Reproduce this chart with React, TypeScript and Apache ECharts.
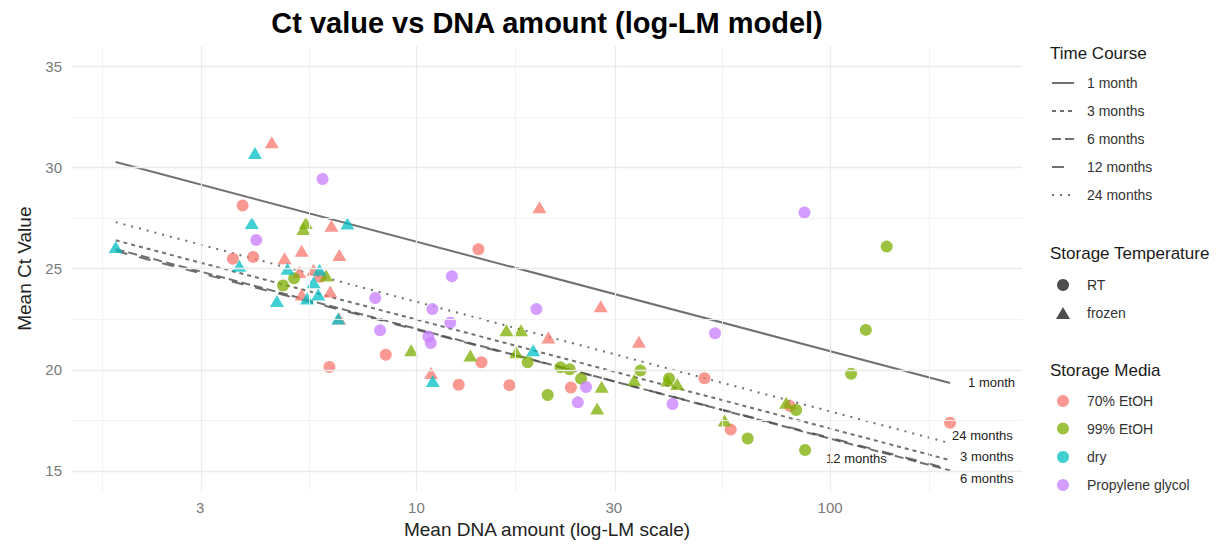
import React, { useEffect, useRef } from 'react';
import * as echarts from 'echarts';

// ---------- axis limits & breaks ----------
const X_LIMITS = [1.47, 291];
const Y_LIMITS = [14, 36];
const X_BREAKS = [3, 10, 30, 100];
const X_MINOR_BREAKS = [1.732, 5.477, 17.32, 54.77, 173.2];
const Y_BREAKS = [15, 20, 25, 30, 35];
const Y_MINOR_BREAKS = [17.5, 22.5, 27.5, 32.5];

// ---------- categories ----------
const MEDIA = ['70% EtOH', '99% EtOH', 'dry', 'Propylene glycol'];
const MEDIA_COLORS = ['#F8766D', '#7CAE00', '#00BFC4', '#C77CFF'];
const TEMPERATURES = ['RT', 'frozen'];
const TIME_COURSE = ['1 month', '3 months', '6 months', '12 months', '24 months'];

// ---------- points: [mean DNA amount, mean Ct] ----------
const ETOH70_RT: [number, number][] = [
  [3.8, 28.12], [3.6, 25.49], [4.03, 25.58], [5.85, 24.6], [6.16, 20.14], [8.43, 20.74],
  [14.12, 25.96], [14.36, 20.37], [12.65, 19.26], [16.78, 19.24], [23.63, 19.12],
  [49.7, 19.58], [57.5, 17.04], [80.0, 18.2], [195, 17.38],
];
const ETOH70_FROZEN: [number, number][] = [
  [4.47, 31.25], [4.8, 25.52], [5.28, 25.88], [6.23, 27.12], [6.51, 25.68], [5.21, 24.84],
  [5.64, 24.94], [5.28, 23.72], [6.19, 23.87], [6.5, 22.54], [10.85, 19.84], [19.83, 28.04],
  [20.85, 21.6], [27.9, 23.14], [34.5, 21.38],
];
const ETOH99_RT: [number, number][] = [
  [4.76, 24.17], [5.06, 24.52], [18.57, 20.37], [20.76, 18.75], [22.29, 20.12], [23.46, 20.02],
  [25.0, 19.56], [34.8, 19.96], [40.8, 19.57], [63.2, 16.6], [82.8, 18.01], [87.0, 16.03],
  [137, 26.09], [122, 21.97], [112.4, 19.8],
];
const ETOH99_FROZEN: [number, number][] = [
  [5.4, 27.26], [5.33, 26.96], [6.05, 24.66], [9.71, 20.96], [13.5, 20.7], [16.5, 21.95],
  [17.9, 21.95], [17.42, 20.87], [28.04, 19.16], [27.35, 18.09], [33.6, 19.49], [40.4, 19.47],
  [42.7, 19.3], [55.6, 17.49], [78.3, 18.37],
];
const DRY_RT: [number, number][] = [];
const DRY_FROZEN: [number, number][] = [
  [4.07, 30.72], [4.0, 27.26], [1.875, 26.07], [3.73, 25.14], [6.81, 27.23], [4.88, 25.0],
  [4.6, 23.4], [5.83, 24.94], [5.64, 24.33], [5.79, 23.72], [5.44, 23.52], [6.47, 22.54],
  [10.95, 19.45], [19.15, 20.96],
];
const PG_RT: [number, number][] = [
  [5.93, 29.43], [4.1, 26.42], [7.95, 23.55], [8.17, 21.95], [12.18, 24.62], [10.93, 23.0],
  [12.07, 22.33], [10.69, 21.64], [10.83, 21.32], [19.5, 23.0], [25.7, 19.15], [24.55, 18.39],
  [41.6, 18.31], [52.7, 21.8], [86.7, 27.78],
];
const PG_FROZEN: [number, number][] = [];

// ---------- fitted log-LM lines (per time course) ----------
const FIT_X_RANGE = [1.875, 195];
const FIT_CT_START = [30.27, 26.4, 25.97, 25.87, 27.3];
const FIT_CT_END = [19.35, 15.53, 15.02, 15.08, 16.37];

const FONT = 'Liberation Sans, Arial, Helvetica, sans-serif';
const lg = (v: number) => Math.log10(v);

const LINE_DASHES: any[] = ['solid', [4, 4], [9, 4], [12, 12], [2, 6]];
const END_LABEL_OFFSETS: [number, number][] = [[10, 0], [2, -3.5], [2, 8], [-132, -11], [-6, -8]];

export default function App() {
  const ref = useRef<HTMLDivElement>(null);

  useEffect(() => {
    document.body.style.margin = '0';
    if (!ref.current) return;
    const chart = echarts.init(ref.current, undefined, { renderer: 'svg' });

    const groups = [
      [ETOH70_RT, ETOH70_FROZEN],
      [ETOH99_RT, ETOH99_FROZEN],
      [DRY_RT, DRY_FROZEN],
      [PG_RT, PG_FROZEN],
    ];

    const scatterSeries: any[] = [];
    groups.forEach((pair, mi) => {
      pair.forEach((pts, ti) => {
        scatterSeries.push({
          type: 'scatter',
          name: MEDIA[mi] + ' ' + TEMPERATURES[ti],
          symbol: ti === 0 ? 'circle' : 'triangle',
          symbolSize: ti === 0 ? 12 : [14, 12],
          itemStyle: { color: MEDIA_COLORS[mi], opacity: 0.75 },
          data: pts.map((p) => [lg(p[0]), p[1]]),
          z: 4,
          silent: true,
        });
      });
    });

    const lineSeries = TIME_COURSE.map((name, i) => ({
      type: 'line',
      name,
      data: [
        [lg(FIT_X_RANGE[0]), FIT_CT_START[i]],
        [lg(FIT_X_RANGE[1]), FIT_CT_END[i]],
      ],
      symbol: 'none',
      showSymbol: false,
      silent: true,
      lineStyle: { color: '#4d4d4d', opacity: 0.8, width: 2, type: LINE_DASHES[i] },
      endLabel: {
        show: true,
        formatter: name,
        distance: 8,
        offset: END_LABEL_OFFSETS[i],
        color: '#222',
        fontSize: 13,
        fontFamily: FONT,
      },
      z: 3,
    }));

    const major = { color: '#ebebeb', width: 1.3, type: 'solid' };
    const minor = { color: '#f2f2f2', width: 0.9, type: 'solid' };
    const gridSeries = {
      type: 'line',
      name: 'grid',
      data: [],
      silent: true,
      z: 1,
      markLine: {
        silent: true,
        symbol: 'none',
        label: { show: false },
        animation: false,
        data: [
          ...X_MINOR_BREAKS.map((v) => ({ xAxis: lg(v), lineStyle: minor })),
          ...Y_MINOR_BREAKS.map((v) => ({ yAxis: v, lineStyle: minor })),
          ...X_BREAKS.map((v) => ({ xAxis: lg(v), lineStyle: major })),
          ...Y_BREAKS.map((v) => ({ yAxis: v, lineStyle: major })),
        ],
      },
    };

    // legend (graphic)
    const lx = 1050;
    const labelX = 1087;
    const g: any[] = [];
    const title = (text: string, y: number) => ({
      type: 'text',
      x: lx,
      y,
      style: { text, fill: '#1a1a1a', font: `17px ${FONT}`, textAlign: 'left', textVerticalAlign: 'middle', align: 'left', verticalAlign: 'middle' },
    });
    const label = (text: string, y: number) => ({
      type: 'text',
      x: labelX,
      y,
      style: { text, fill: '#333', font: `14px ${FONT}`, textAlign: 'left', textVerticalAlign: 'middle', align: 'left', verticalAlign: 'middle' },
    });
    g.push(title('Time Course', 53));
    const tcY = [83, 111, 139, 167, 195];
    TIME_COURSE.forEach((name, i) => {
      const d = LINE_DASHES[i];
      g.push({
        type: 'line',
        shape: { x1: 1052, y1: tcY[i], x2: 1074, y2: tcY[i] },
        style: { stroke: '#4d4d4d', opacity: 0.8, lineWidth: 2, lineDash: d === 'solid' ? null : d },
      });
      g.push(label(name, tcY[i]));
    });
    g.push(title('Storage Temperature', 253));
    g.push({ type: 'circle', shape: { cx: 1063, cy: 285, r: 6 }, style: { fill: '#4d4d4d' } });
    g.push(label(TEMPERATURES[0], 285));
    g.push({ type: 'polygon', shape: { points: [[1056, 319], [1070, 319], [1063, 307]] }, style: { fill: '#4d4d4d' } });
    g.push(label(TEMPERATURES[1], 313));
    g.push(title('Storage Media', 370));
    const mY = [401, 428.5, 457, 485];
    MEDIA.forEach((m, i) => {
      g.push({ type: 'circle', shape: { cx: 1063, cy: mY[i], r: 6 }, style: { fill: MEDIA_COLORS[i], opacity: 0.75 } });
      g.push(label(m, mY[i]));
    });
    g.push({
      type: 'text',
      x: 547,
      y: 23,
      style: {
        text: 'Ct value vs DNA amount (log-LM model)',
        fill: '#000',
        font: `bold 29px ${FONT}`,
        textAlign: 'center',
        textVerticalAlign: 'middle',
        align: 'center',
        verticalAlign: 'middle',
      },
    });

    chart.setOption({
      animation: false,
      backgroundColor: '#fff',
      grid: { left: 72, right: 195, top: 46.2, bottom: 47.5, containLabel: false },
      xAxis: {
        type: 'value',
        min: lg(X_LIMITS[0]),
        max: lg(X_LIMITS[1]),
        axisLine: { show: false },
        axisTick: { show: false },
        splitLine: { show: false },
        axisLabel: {
          customValues: X_BREAKS.map(lg),
          formatter: (v: number) => {
            const t = X_BREAKS.find((b) => Math.abs(lg(b) - v) < 1e-6);
            return t === undefined ? '' : String(t);
          },
          color: '#7a7a7a',
          fontSize: 15,
          fontFamily: FONT,
          margin: 9,
        },
        name: 'Mean DNA amount (log-LM scale)',
        nameLocation: 'middle',
        nameGap: 27,
        nameTextStyle: { color: '#222', fontSize: 19, fontFamily: FONT },
      },
      yAxis: {
        type: 'value',
        min: Y_LIMITS[0],
        max: Y_LIMITS[1],
        axisLine: { show: false },
        axisTick: { show: false },
        splitLine: { show: false },
        axisLabel: {
          customValues: Y_BREAKS,
          color: '#7a7a7a',
          fontSize: 15,
          fontFamily: FONT,
          margin: 10,
        },
        name: 'Mean Ct Value',
        nameLocation: 'middle',
        nameGap: 30,
        nameTextStyle: { color: '#222', fontSize: 19, fontFamily: FONT },
      },
      series: [gridSeries, ...lineSeries, ...scatterSeries],
      graphic: { elements: g },
    });

    return () => chart.dispose();
  }, []);

  return <div ref={ref} style={{ width: 1217, height: 544 }} />;
}
